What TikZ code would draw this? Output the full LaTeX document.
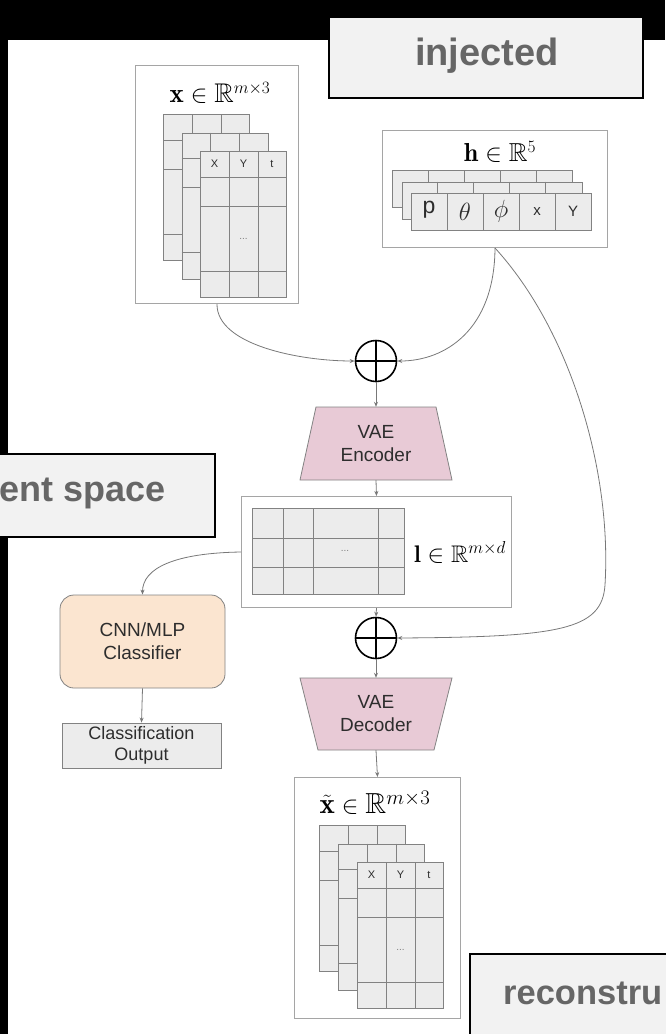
\documentclass[tikz,border=0pt]{standalone}
\usepackage{amssymb}
\usepackage{fontspec}
\newfontfamily\arial{Liberation Sans}
\usetikzlibrary{arrows.meta}
\definecolor{encpink}{RGB}{232,202,214}
\definecolor{clspeach}{RGB}{251,229,208}
\definecolor{cellgray}{RGB}{236,236,236}
\definecolor{gridgray}{RGB}{130,130,130}
\definecolor{framegray}{RGB}{165,165,165}
\definecolor{conngray}{RGB}{120,120,120}
\definecolor{boxfill}{RGB}{242,242,242}
\definecolor{boxtext}{RGB}{102,102,102}
\definecolor{darktext}{RGB}{45,45,45}
\begin{document}
\begin{tikzpicture}[x=1pt,y=-1pt,>={Stealth[length=5pt,width=4pt]},
  frame/.style={draw=framegray,line width=1pt,fill=white,inner sep=0,anchor=north west},
  layer/.style={draw=gridgray,line width=0.8pt,fill=cellgray,inner sep=0,anchor=north west,
    minimum width=86pt,minimum height=146pt},
  hlayer/.style={layer,minimum width=180pt,minimum height=37pt},
  grid/.style={draw=gridgray,line width=0.8pt},
  title/.style={inner sep=0,font=\fontsize{27}{29}\selectfont},
  hdr/.style={inner sep=0,text=darktext,font=\arial\fontsize{11}{13}\selectfont},
  dots/.style={inner sep=0,text=gray,font=\arial\fontsize{10}{12}\selectfont},
  conn/.style={draw=conngray,line width=0.8pt},
  plus/.style={draw=black,line width=1.6pt,circle,minimum size=41pt,inner sep=0,
    path picture={\draw[line width=1.6pt] (path picture bounding box.north) -- (path picture bounding box.south)
      (path picture bounding box.west) -- (path picture bounding box.east);}},
  vae/.style={draw=gridgray,line width=0.8pt,fill=encpink},
  vaetext/.style={inner sep=0,align=center,text=darktext,font=\arial\fontsize{19}{23}\selectfont},
  cls/.style={draw=gridgray,line width=0.8pt,fill=clspeach,rounded corners=14pt,align=center,
    text=darktext,font=\arial\fontsize{19}{23}\selectfont},
  outbox/.style={draw=gridgray,line width=0.8pt,fill=cellgray,align=center,inner sep=0,
    text=darktext,font=\arial\fontsize{18}{21}\selectfont},
  lbl/.style={draw=black,line width=2pt,fill=boxfill,inner sep=0},
  lbltext/.style={inner sep=0,text=boxtext,font=\arial\bfseries\fontsize{36}{40}\selectfont}]
  \useasboundingbox (0,0) rectangle (665,1034);
  \fill[black] (0,0) rectangle (665,40);
  \fill[black] (0,0) rectangle (8,1034);

  % input trajectory x
  \node[frame,minimum width=163pt,minimum height=238pt] (xin) at (135,65) {};
  \node[title] (xintitle) at (220,93) {$\mathbf{x}\in\mathbb{R}^{m\times 3}$};
  \foreach \lx/\ly [count=\i] in {163/114,181.5/132.5,200/151}{
    \node[layer] (xl\i) at (\lx,\ly) {};
    \draw[grid] ([xshift=29pt]xl\i.north west) -- ([xshift=29pt]xl\i.south west)
      ([xshift=58pt]xl\i.north west) -- ([xshift=58pt]xl\i.south west)
      ([yshift=-26pt]xl\i.north west) -- ([yshift=-26pt]xl\i.north east)
      ([yshift=-55pt]xl\i.north west) -- ([yshift=-55pt]xl\i.north east)
      ([yshift=-120pt]xl\i.north west) -- ([yshift=-120pt]xl\i.north east);
  }
  \node[hdr] (xlx) at ([xshift=14.5pt,yshift=-13pt]xl3.north west) {X};
  \node[hdr] (xly) at ([xshift=43.5pt,yshift=-13pt]xl3.north west) {Y};
  \node[hdr] (xlt) at ([xshift=72pt,yshift=-13pt]xl3.north west) {t};
  \node[dots] (xldots) at ([xshift=43.5pt,yshift=-87.5pt]xl3.north west) {...};

  % injected parameters h
  \node[frame,minimum width=225pt,minimum height=117pt] (hin) at (382,130) {};
  \node[title,font=\fontsize{26}{28}\selectfont] (hintitle) at (500,152) {$\mathbf{h}\in\mathbb{R}^{5}$};
  \foreach \lx/\ly [count=\i] in {392/170,401.5/181.5,411/193}{
    \node[hlayer] (hl\i) at (\lx,\ly) {};
    \foreach \c in {36,72,108,144}
      \draw[grid] ([xshift=\c pt]hl\i.north west) -- ([xshift=\c pt]hl\i.south west);
  }
  \node[hdr,font=\arial\fontsize{23}{25}\selectfont] (hp) at ([xshift=18pt,yshift=-17pt]hl3.north west) {p};
  \node[hdr,font=\fontsize{24}{26}\selectfont] (htheta) at ([xshift=54pt,yshift=-18.5pt]hl3.north west) {$\theta$};
  \node[hdr,font=\fontsize{24}{26}\selectfont] (hphi) at ([xshift=90pt,yshift=-18.5pt]hl3.north west) {$\phi$};
  \node[hdr,font=\arial\fontsize{15}{17}\selectfont] (hx) at ([xshift=126pt,yshift=-18.5pt]hl3.north west) {x};
  \node[hdr,font=\arial\fontsize{15}{17}\selectfont] (hy) at ([xshift=162pt,yshift=-18.5pt]hl3.north west) {Y};

  % encoder
  \node[plus] (sum1) at (376,361) {};
  \draw[vae] (316,407) -- (436,407) -- (452,480) -- (300,480) -- cycle;
  \node[vaetext,minimum height=73pt] (enc) at (376,443.5) {VAE\\Encoder};

  % latent l
  \node[frame,minimum width=270pt,minimum height=111pt] (lat) at (241,496) {};
  \node[layer,minimum width=152pt,minimum height=86pt] (lgrid) at (252,508) {};
  \draw[grid] ([xshift=31pt]lgrid.north west) -- ([xshift=31pt]lgrid.south west)
    ([xshift=61pt]lgrid.north west) -- ([xshift=61pt]lgrid.south west)
    ([xshift=126pt]lgrid.north west) -- ([xshift=126pt]lgrid.south west)
    ([yshift=-30pt]lgrid.north west) -- ([yshift=-30pt]lgrid.north east)
    ([yshift=-59pt]lgrid.north west) -- ([yshift=-59pt]lgrid.north east);
  \node[dots] (ldots) at (345,551) {...};
  \node[title,font=\fontsize{24}{26}\selectfont] (llabel) at (460,552) {$\mathbf{l}\in\mathbb{R}^{m\times d}$};

  % classifier
  \node[cls,minimum width=165pt,minimum height=93pt] (clf) at (142.5,641.5) {CNN/MLP\\Classifier};
  \node[outbox,minimum width=159pt,minimum height=45pt] (out) at (141.5,745.5) {Classification\\Output};

  % decoder
  \node[plus] (sum2) at (376,638) {};
  \draw[vae] (300,678) -- (452,678) -- (434,750) -- (318,750) -- cycle;
  \node[vaetext,minimum height=72pt] (dec) at (376,714) {VAE\\Decoder};

  % reconstruction
  \node[frame,minimum width=166pt,minimum height=241pt] (xout) at (294,777) {};
  \node[title,font=\fontsize{29}{31}\selectfont] (xouttitle) at (375,803) {$\tilde{\mathbf{x}}\in\mathbb{R}^{m\times 3}$};
  \foreach \lx/\ly [count=\i] in {319/825,338/843.5,357/862}{
    \node[layer] (xr\i) at (\lx,\ly) {};
    \draw[grid] ([xshift=29pt]xr\i.north west) -- ([xshift=29pt]xr\i.south west)
      ([xshift=58pt]xr\i.north west) -- ([xshift=58pt]xr\i.south west)
      ([yshift=-26pt]xr\i.north west) -- ([yshift=-26pt]xr\i.north east)
      ([yshift=-55pt]xr\i.north west) -- ([yshift=-55pt]xr\i.north east)
      ([yshift=-120pt]xr\i.north west) -- ([yshift=-120pt]xr\i.north east);
  }
  \node[hdr] (xrx) at ([xshift=14.5pt,yshift=-13pt]xr3.north west) {X};
  \node[hdr] (xry) at ([xshift=43.5pt,yshift=-13pt]xr3.north west) {Y};
  \node[hdr] (xrt) at ([xshift=72pt,yshift=-13pt]xr3.north west) {t};
  \node[dots] (xrdots) at ([xshift=43.5pt,yshift=-87.5pt]xr3.north west) {...};

  % connectors
  \draw[->,conn] (xin.south) .. controls (216.5,345) and (300,361) .. (sum1.west);
  \draw[->,conn] (hin.south) .. controls (494.5,330) and (445,361) .. (sum1.east);
  \draw[->,conn] (hin.south) .. controls (570,330) and (612,470) .. (605,585)
    .. controls (602,630) and (560,637) .. (sum2.east);
  \draw[->,conn] (sum1.south) -- (enc.north);
  \draw[->,conn] (enc.south) -- (lat.north);
  \draw[->,conn] (lat.west) .. controls (175,553) and (142.5,568) .. (clf.north);
  \draw[->,conn] (clf.south) -- (out.north);
  \draw[->,conn] (lat.south) -- (sum2.north);
  \draw[->,conn] (sum2.south) -- (dec.north);
  \draw[->,conn] (dec.south) -- (xout.north);

  % overlay labels
  \node[lbl,minimum width=314pt,minimum height=81pt] (injbox) at (486,57.5) {};
  \node[lbltext,font=\arial\bfseries\fontsize{38}{42}\selectfont] (injtext) at (487,56) {injected};
  \node[lbl,minimum width=235pt,minimum height=83pt] (latbox) at (97.5,495.5) {};
  \node[lbltext,anchor=west] (lattext) at (-1,493) {ent space};
  \node[lbl,minimum width=240pt,minimum height=140pt] (recbox) at (590,1024) {};
  \node[lbltext,anchor=west,font=\arial\bfseries\fontsize{34.5}{38}\selectfont] (rectext) at (503,993) {reconstru};
\end{tikzpicture}
\end{document}
